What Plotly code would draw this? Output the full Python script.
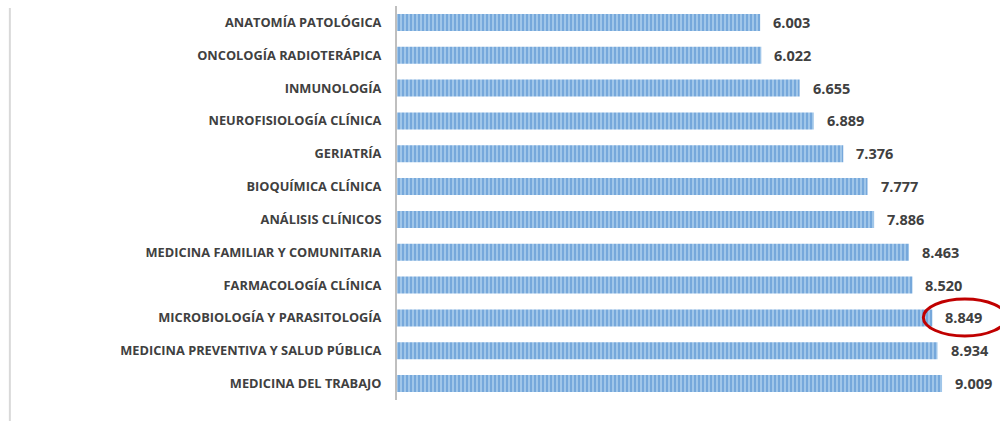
import plotly.graph_objects as go

categories = [
    "ANATOMÍA PATOLÓGICA",
    "ONCOLOGÍA RADIOTERÁPICA",
    "INMUNOLOGÍA",
    "NEUROFISIOLOGÍA CLÍNICA",
    "GERIATRÍA",
    "BIOQUÍMICA CLÍNICA",
    "ANÁLISIS CLÍNICOS",
    "MEDICINA FAMILIAR Y COMUNITARIA",
    "FARMACOLOGÍA CLÍNICA",
    "MICROBIOLOGÍA Y PARASITOLOGÍA",
    "MEDICINA PREVENTIVA Y SALUD PÚBLICA",
    "MEDICINA DEL TRABAJO",
]
values = [6003, 6022, 6655, 6889, 7376, 7777, 7886, 8463, 8520, 8849, 8934, 9009]
highlight = "MICROBIOLOGÍA Y PARASITOLOGÍA"

fig = go.Figure()
fig.add_trace(go.Bar(
    y=categories,
    x=values,
    orientation="h",
    marker=dict(
        color="#8FBCE6",
        line=dict(width=0),
        pattern=dict(shape="|", fgcolor="#4787CC", bgcolor="#A4C9EB", size=4, solidity=0.55),
    ),
    hoverinfo="skip",
))

for c, v in zip(categories, values):
    fig.add_annotation(
        x=v, y=c, xref="x", yref="y",
        text=f"{v:,}".replace(",", "."),
        showarrow=False, xanchor="left", xshift=11,
        font=dict(family="Open Sans", size=14.5, color="#404040", weight="bold"),
    )

# red ellipse around highlighted value
hi_idx = categories.index(highlight)
hv = values[hi_idx]
fig.add_shape(
    type="circle", xref="x", yref="y",
    xsizemode="pixel", ysizemode="pixel",
    xanchor=hv, yanchor=hi_idx,
    x0=-9, x1=74, y0=-18, y1=19,
    line=dict(color="#C00000", width=3),
)

# faint left border line
fig.add_shape(
    type="line", xref="paper", yref="paper",
    x0=-0.642, x1=-0.642, y0=-0.053, y1=0.995,
    line=dict(color="#D9D9D9", width=2),
)

fig.update_layout(
    width=1008, height=422,
    margin=dict(l=397, r=8, t=6, b=22),
    paper_bgcolor="white", plot_bgcolor="white",
    bargap=0.48,
    showlegend=False,
    xaxis=dict(range=[0, 9967], visible=False, fixedrange=True),
    yaxis=dict(
        autorange="reversed",
        showline=True, linecolor="#BFBFBF", linewidth=2,
        ticks="", ticklabelstandoff=11,
        tickfont=dict(family="Open Sans", size=12.8, color="#404040", weight="bold"),
        showgrid=False, fixedrange=True,
    ),
)

fig.write_html(
    "out.html",
    config={"displayModeBar": False},
    post_script="document.body.style.margin='0';document.body.style.overflow='hidden';",
)
